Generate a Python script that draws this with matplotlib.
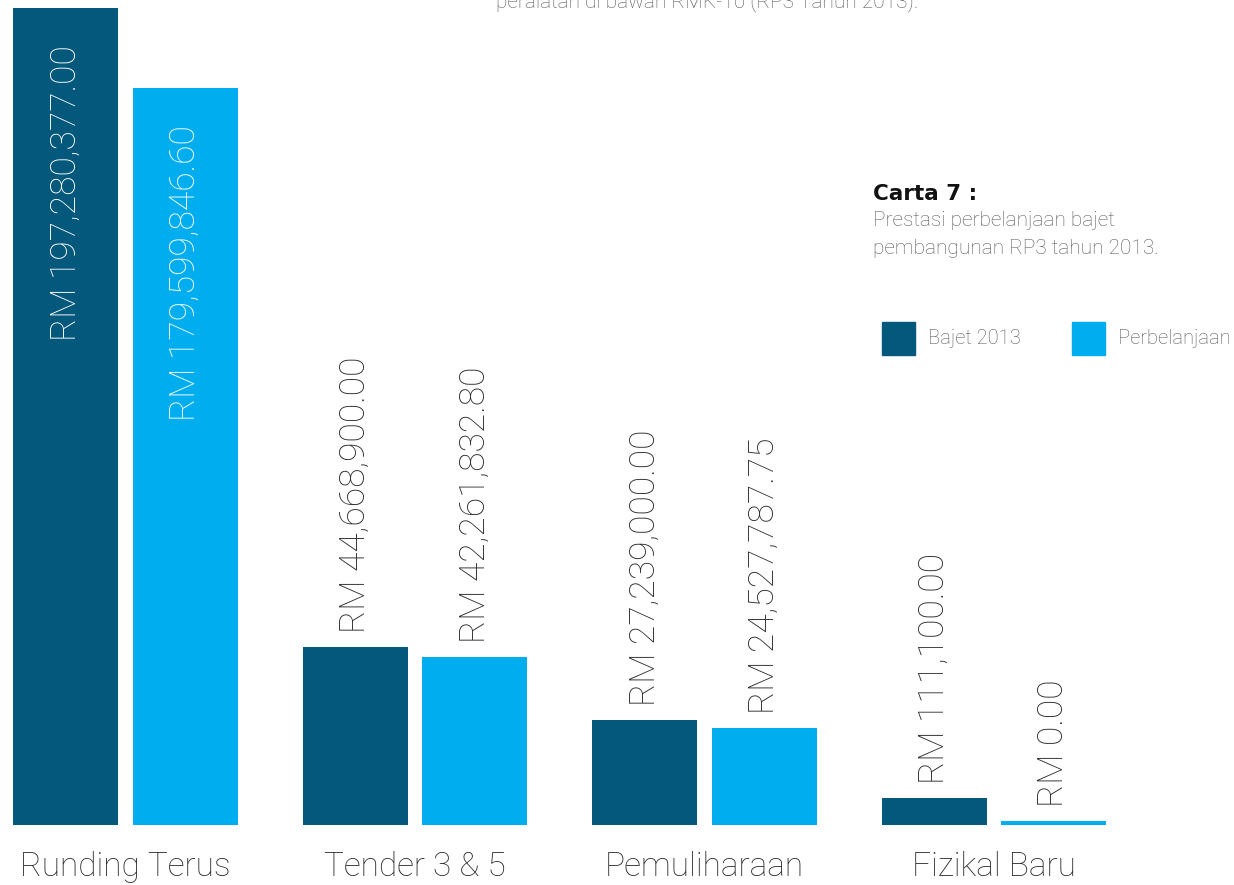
import matplotlib.pyplot as plt
import numpy as np

plt.rcParams['font.family'] = ['Roboto', 'DejaVu Sans']

categories = ['Runding Terus', 'Tender 3 & 5', 'Pemuliharaan', 'Fizikal Baru']
bajet_labels = ['RM 197,280,377.00', 'RM 44,668,900.00', 'RM 27,239,000.00', 'RM 111,100.00']
belanja_labels = ['RM 179,599,846.60', 'RM 42,261,832.80', 'RM 24,527,787.75', 'RM 0.00']
# bar heights as drawn in the original (RM juta), not strictly to scale
bajet_height = [197.3, 43.0, 25.4, 6.5]
belanja_height = [178.0, 40.6, 23.4, 0.9]

DARK = '#04587B'
LIGHT = '#00AEEF'
TXT = '#2E2E2E'
GREY = '#5A5A5A'

fig = plt.figure(figsize=(12.34, 8.85), dpi=100)
ax = fig.add_axes([0, 60 / 885, 1, 825 / 885])

x = np.arange(len(categories))
w = 0.363
off = 0.206
b1 = ax.bar(x - off, bajet_height, w, color=DARK)
b2 = ax.bar(x + off, belanja_height, w, color=LIGHT)

ax.set_xlim(-0.4335, 3.829)
ax.set_ylim(0, 199.2)
ax.axis('off')

for bars, labels in ((b1, bajet_labels), (b2, belanja_labels)):
    for i, (rect, lab) in enumerate(zip(bars, labels)):
        cx = rect.get_x() + rect.get_width() / 2
        top = rect.get_height()
        if i == 0:
            # label inside tall bar
            ax.annotate(lab, (cx, top), xytext=(0, -27), textcoords='offset points',
                        rotation=90, ha='center', va='top', color='white',
                        fontsize=25.5, fontweight='light')
        else:
            ax.annotate(lab, (cx, top), xytext=(0, 10), textcoords='offset points',
                        rotation=90, ha='center', va='bottom', color=TXT,
                        fontsize=25.5, fontweight='light')

for i, cat in enumerate(categories):
    ax.annotate(cat, (x[i], 0), xytext=(0, -30), textcoords='offset points',
                ha='center', va='center', color=TXT, fontsize=24, fontweight='light')

# header text cut off at the top, as in the source page
fig.text(707 / 1234, 1 - 2 / 885, 'peralatan di bawah RMK-10 (RP3 Tahun 2013).',
         ha='center', va='center', fontsize=15, color=GREY, fontweight='light')

fig.text(873 / 1234, 1 - 194 / 885, 'Carta 7 :', ha='left', va='center',
         fontsize=15.5, fontweight='bold', color='#111111', family='DejaVu Sans')
fig.text(873 / 1234, 1 - 220 / 885, 'Prestasi perbelanjaan bajet', ha='left', va='center',
         fontsize=15, color=GREY, fontweight='light')
fig.text(873 / 1234, 1 - 248 / 885, 'pembangunan RP3 tahun 2013.', ha='left', va='center',
         fontsize=15, color=GREY, fontweight='light')

# legend
for sx, col, lab in ((882, DARK, 'Bajet 2013'), (1072, LIGHT, 'Perbelanjaan')):
    fig.patches.append(plt.Rectangle((sx / 1234, 1 - 355 / 885), 33 / 1234, 33 / 885,
                                     transform=fig.transFigure, color=col))
    fig.text((sx + 46) / 1234, 1 - 339 / 885, lab, ha='left', va='center',
             fontsize=14.5, color=GREY, fontweight='light')

fig.savefig('out.png', dpi=100)
